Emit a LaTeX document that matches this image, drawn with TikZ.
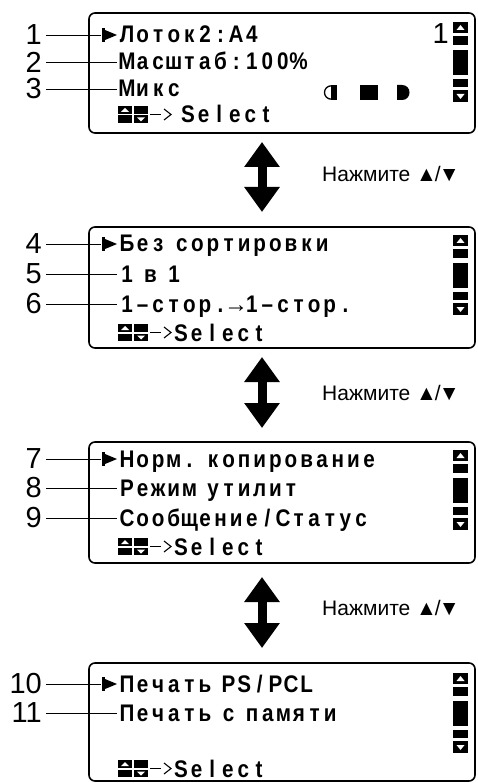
\documentclass[tikz,border=0pt]{standalone}
\usepackage{fontspec}
\setmainfont{Liberation Sans}
\newfontfamily\lcdfont[FakeStretch=0.86]{Liberation Sans Bold}
\usetikzlibrary{arrows.meta}
% fixed cells, as on the display
\newcommand\lcdend{LCDEND}
\newcommand\lcdtext[1]{\lcdloop#1\lcdend}
\def\lcdloop#1{\ifx\lcdend#1\else\ifx~#1\hspace*{8pt}\else\makebox[15.6pt]{#1}\fi\expandafter\lcdloop\fi}
\tikzset{
  lcd/.style={font={\lcdfont\fontsize{24pt}{24pt}\selectfont}, anchor=base west, inner sep=0pt},
  callout/.style={font={\fontsize{29pt}{29pt}\selectfont}, anchor=east, inner sep=0pt},
  hint/.style={font={\fontsize{21pt}{21pt}\selectfont}, anchor=west, inner sep=0pt},
  panelbox/.style={line width=1.6pt, rounded corners=6pt},
  leader/.style={line width=0.9pt},
  updown/.style={line width=9pt, {Triangle[length=25pt,width=34pt]}-{Triangle[length=25pt,width=34pt]}}}

\begin{document}
\begin{tikzpicture}[x=1pt,y=-1pt]
\useasboundingbox (0,0) rectangle (477,783);
\draw[panelbox] (89,13) rectangle (475,133);
\draw[panelbox] (89,227) rectangle (475,348);
\draw[panelbox] (89,442) rectangle (475,563);
\draw[panelbox] (89,663) rectangle (475,781);
% scroll bars
\foreach \t in {22,235,450,673}{
  \fill (453,\t) rectangle (468,\t+11);
  \fill[white] (460.5,\t+3) -- (464.5,\t+8) -- (456.5,\t+8) -- cycle;
  \fill (453,\t+14) rectangle (468,\t+23);
  \fill (453,\t+28) rectangle (468,\t+53);
  \fill (453,\t+57) rectangle (468,\t+65);
  \fill (453,\t+68) rectangle (468,\t+80);
  \fill[white] (456.5,\t+72) -- (464.5,\t+72) -- (460.5,\t+77) -- cycle;
}
% select keys
\foreach \b in {123,341,555,777}{
  \fill (118,\b-17) rectangle (132,\b);
  \fill[white] (118,\b-9) rectangle (132,\b-7.5);
  \fill[white] (125,\b-15) -- (129,\b-11) -- (121,\b-11) -- cycle;
  \fill (134,\b-17) rectangle (148,\b);
  \fill[white] (134,\b-9) rectangle (148,\b-7.5);
  \fill[white] (137,\b-5.5) -- (145,\b-5.5) -- (141,\b-1.5) -- cycle;
  \draw[line width=1.8pt] (150,\b-8.5) -- (161,\b-8.5);
  \draw[line width=1.1pt] (164,\b-14) -- (171,\b-8.5) -- (164,\b-3);
}
% cursor marks
\coordinate (m1) at (101,35);
\coordinate (m4) at (101,244);
\coordinate (m7) at (101,459);
\coordinate (m10) at (101,684);
\foreach \m in {m1,m4,m7,m10}{
  \fill (\m) ++(1,-7) rectangle ++(3,14);
  \fill (\m) ++(4,-5) -- ++(12,5) -- ++(-12,5) -- cycle;
}
% panel 1
\node[lcd] (r1) at (119,43) {\lcdtext{Лоток2:А4}};
\node[lcd] (r2) at (119,70) {\lcdtext{Масштаб:100\%}};
\node[lcd] (r3) at (119,97) {\lcdtext{Микс}};
\node[lcd] (s1) at (180,123) {\lcdtext{Select}};
\node[callout] (pg) at (449,34) {1};
\draw[line width=1.3pt] (332,85.7) .. controls (322,85.7) and (322,99.3) .. (332,99.3);
\fill (331,85) rectangle (337,100);
\fill (360,85) rectangle (378,100);
\fill (397,85) -- (402,85) .. controls (412,85) and (412,100) .. (402,100) -- (397,100) -- cycle;
% panel 2
\node[lcd] (r4) at (119,252) {\lcdtext{Без~сортировки}};
\node[lcd] (r5) at (119,282) {\lcdtext{1~в~1}};
\node[lcd] (r6) at (119,312) {\lcdtext{1–стор.{{\normalfont→}}1–стор.}};
\node[lcd] (s2) at (173,341) {\lcdtext{Select}};
% panel 3
\node[lcd] (r7) at (119,467) {\lcdtext{Норм.~копирование}};
\node[lcd] (r8) at (119,496) {\lcdtext{Режим~утилит}};
\node[lcd] (r9) at (119,526) {\lcdtext{Сообщение/Статус}};
\node[lcd] (s3) at (173,555) {\lcdtext{Select}};
% panel 4
\node[lcd] (r10) at (119,692) {\lcdtext{Печать~PS/PCL}};
\node[lcd] (r11) at (119,721) {\lcdtext{Печать~с~памяти}};
\node[lcd] (s4) at (173,777) {\lcdtext{Select}};
% callouts
\node[callout] (n1) at (42,35) {1};
\node[callout] (n2) at (42,62) {2};
\node[callout] (n3) at (42,89) {3};
\node[callout] (n4) at (42,244) {4};
\node[callout] (n5) at (42,274) {5};
\node[callout] (n6) at (42,304) {6};
\node[callout] (n7) at (42,459) {7};
\node[callout] (n8) at (42,488) {8};
\node[callout] (n9) at (42,518) {9};
\node[callout] (n10) at (42,684) {10};
\node[callout] (n11) at (42,713) {11};
\draw[leader, shorten <=4pt] (n1.east) -- (m1);
\draw[leader, shorten <=4pt] (n4.east) -- (m4);
\draw[leader, shorten <=4pt] (n7.east) -- (m7);
\draw[leader, shorten <=4pt] (n10.east) -- (m10);
\foreach \n/\r in {n2/r2,n3/r3,n5/r5,n6/r6,n8/r8,n9/r9,n11/r11}
  \draw[leader, shorten <=4pt, shorten >=2pt] (\n.east) -- (\n.east -| \r.west);
% scrolling
\coordinate (a1) at (262,142);
\coordinate (b1) at (262,212);
\coordinate (a2) at (262,357);
\coordinate (b2) at (262,428);
\coordinate (a3) at (262,577);
\coordinate (b3) at (262,648);
\draw[updown] (a1) -- (b1);
\draw[updown] (a2) -- (b2);
\draw[updown] (a3) -- (b3);
\node[hint] (h1) at (322,174) {Нажмите ▲\kern-2pt/\kern-2pt▼};
\node[hint] (h2) at (322,393) {Нажмите ▲\kern-2pt/\kern-2pt▼};
\node[hint] (h3) at (322,608) {Нажмите ▲\kern-2pt/\kern-2pt▼};
\end{tikzpicture}
\end{document}
